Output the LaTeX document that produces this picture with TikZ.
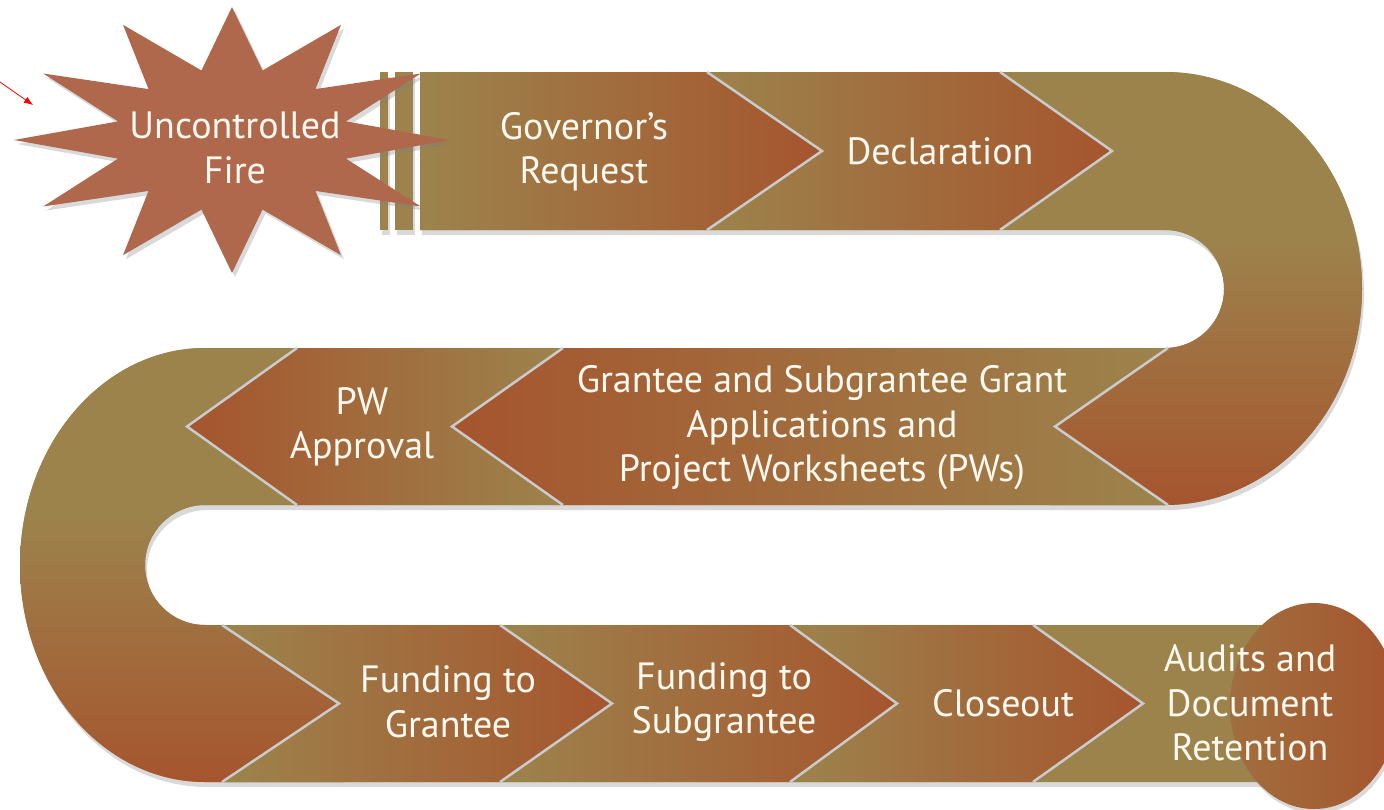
\documentclass[tikz,border=0pt]{standalone}
\usepackage{fontspec}
\newfontfamily\stepfamily{PT Sans}
\usetikzlibrary{shadows,arrows.meta}
\definecolor{bandolive}{HTML}{9C834C}
\definecolor{bandrust}{HTML}{A6552E}
\definecolor{firebrown}{HTML}{AF684C}
\definecolor{steptext}{HTML}{FFF9F0}
\definecolor{bevel}{HTML}{C9CBCD}
\pgfdeclareverticalshading{turnshade}{100bp}{color(0bp)=(bandrust); color(25bp)=(bandrust);
    color(56bp)=(bandolive); color(100bp)=(bandolive)}
\tikzstyle{band}=[fill=bandolive,drop shadow={shadow xshift=2pt,shadow yshift=-5pt,opacity=0.3}]
\tikzstyle{turn}=[shading=turnshade]
\tikzstyle{chevright}=[left color=bandolive,right color=bandrust]
\tikzstyle{chevleft}=[left color=bandrust,right color=bandolive]
\tikzstyle{bevelline}=[draw=bevel,line width=2.5pt]
\tikzstyle{steplabel}=[text=steptext,align=center,font=\stepfamily\fontsize{38}{44.5}\selectfont]

\begin{document}
\begin{tikzpicture}[x=1pt,y=-1pt]
            \useasboundingbox (0,0) rectangle (1384,809);
            \clip (0,0) rectangle (1384,809);

            % BAND

            \fill[band] (380,72) rectangle (388,230);
            \fill[band] (395,72) rectangle (413,230);
            \fill[band] (420,72) -- (1165,72)
                arc[start angle=-90,end angle=90,x radius=197,y radius=216.5]
                -- (205,505) arc[start angle=-90,end angle=-270,radius=60]
                -- (1314,625) -- (1314,782) -- (205,782)
                arc[start angle=90,end angle=270,x radius=185,y radius=217]
                -- (1165,348) arc[start angle=90,end angle=-90,radius=59]
                -- (420,230) -- cycle;

            % turns
            \shade[turn] (1165,72)
                arc[start angle=-90,end angle=90,x radius=197,y radius=216.5]
                -- (1050,505) -- (1050,348) -- (1165,348)
                arc[start angle=90,end angle=-90,radius=59] -- cycle;
            \shade[turn] (300,348) -- (205,348)
                arc[start angle=-90,end angle=-270,x radius=185,y radius=217]
                -- (345,782) -- (345,625) -- (205,625)
                arc[start angle=90,end angle=270,radius=60] -- (300,505) -- cycle;

            % end circle
            \shade[left color=bandolive!55!bandrust,right color=bandrust,
                drop shadow={shadow xshift=2pt,shadow yshift=-4pt,opacity=0.3}]
                (1314,706) ellipse[x radius=84,y radius=103];

            % TOP ROW

            \shade[chevright] (420,72) -- (707,72) -- (822,151) -- (707,230) -- (420,230) -- cycle;
            \shade[chevright] (707,72) -- (1000,72) -- (1112,151) -- (1000,230) -- (707,230) -- (822,151) -- cycle;
            \draw[bevelline] (707,72) -- (822,151) -- (707,230);
            \draw[bevelline] (1000,72) -- (1112,151) -- (1000,230);

            % MIDDLE ROW

            \shade[chevleft] (563,348) -- (1168,348) -- (1055,426.5) -- (1168,505) -- (563,505) -- (452,426.5) -- cycle;
            \shade[chevleft] (297,348) -- (563,348) -- (452,426.5) -- (563,505) -- (297,505) -- (187,426.5) -- cycle;
            \draw[bevelline] (1168,348) -- (1055,426.5) -- (1168,505);
            \draw[bevelline] (563,348) -- (452,426.5) -- (563,505);
            \draw[bevelline] (297,348) -- (187,426.5) -- (297,505);

            % BOTTOM ROW

            \shade[chevright] (222,625) -- (500,625) -- (612,703.5) -- (500,782) -- (222,782) -- (339,703.5) -- cycle;
            \shade[chevright] (500,625) -- (790,625) -- (897,703.5) -- (790,782) -- (500,782) -- (612,703.5) -- cycle;
            \shade[chevright] (790,625) -- (1033,625) -- (1143,703.5) -- (1033,782) -- (790,782) -- (897,703.5) -- cycle;
            \draw[bevelline] (222,625) -- (339,703.5) -- (222,782);
            \draw[bevelline] (500,625) -- (612,703.5) -- (500,782);
            \draw[bevelline] (790,625) -- (897,703.5) -- (790,782);
            \draw[bevelline] (1033,625) -- (1143,703.5) -- (1033,782);

            % FIRE

            \begin{scope}[shift={(232,140)}]
            \fill[firebrown,drop shadow={shadow xshift=3pt,shadow yshift=-4pt,opacity=0.3}]
                (0:218 and 133)
                \foreach \a in {30,60,...,360} { -- ({\a-15}:118 and 72) -- (\a:218 and 133) } -- cycle;
            \end{scope}

            % LABELS

            \node[steplabel] (fire) at (235,148) {Uncontrolled\\Fire};
            \node[steplabel] (gov) at (584,152) {Governor’s\\Request};
            \node[steplabel] (decl) at (940,151) {Declaration};
            \node[steplabel] (grant) at (822,428) {Grantee and Subgrantee Grant\\Applications and\\Project Worksheets (PWs)};
            \node[steplabel] (pw) at (362,427) {PW\\Approval};
            \node[steplabel] (fund1) at (448,702) {Funding to\\Grantee};
            \node[steplabel] (fund2) at (724,702) {Funding to\\Subgrantee};
            \node[steplabel] (close) at (1003,703) {Closeout};
            \node[steplabel] (audit) at (1250,703) {Audits and\\Document\\Retention};

            \coordinate (ptrtail) at (0,82);
            \coordinate (ptrhead) at (33,105);
            \draw[red,line width=0.8pt,-{Latex[length=9pt,width=7pt]}] (ptrtail) -- (ptrhead);

        \end{tikzpicture}
\end{document}
